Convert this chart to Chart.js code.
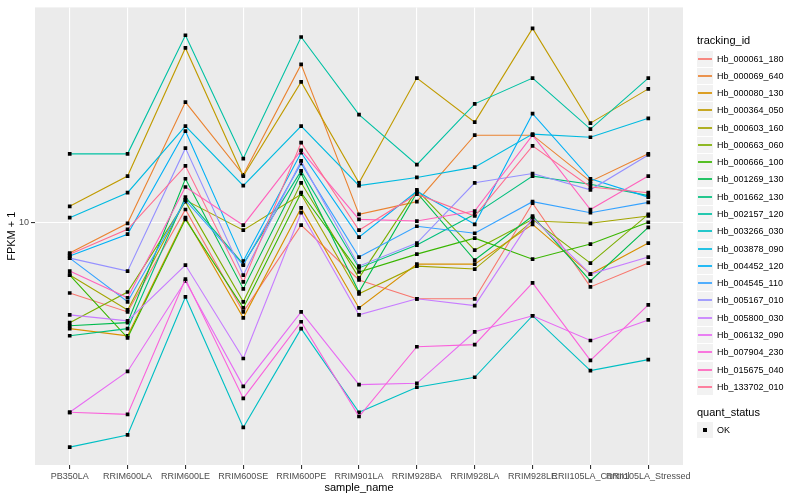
<!DOCTYPE html>
<html>
<head>
<meta charset="utf-8">
<script src="https://cdn.jsdelivr.net/npm/chart.js@4.4.0/dist/chart.umd.min.js"></script>
<style>
  body { margin: 0; background: #fff; }
  #wrap { position: relative; width: 800px; height: 500px; font-family: "Liberation Sans", Arial, sans-serif; }
  canvas { position: absolute; left: 0; top: 0; }
  .ltitle { position: absolute; left: 697px; font-size: 11px; color: #000; line-height: 13px; }
  .lrow { position: absolute; left: 697px; height: 17px; display: flex; align-items: center; font-size: 9px; color: #000; }
  .lkey { width: 16px; height: 16px; background: #f2f2f2; position: relative; margin-right: 4px; }
  .lkey .ln { position: absolute; left: 1px; right: 1px; top: 7px; height: 2px; opacity: 0.85; }
  .lkey .pt { position: absolute; left: 6px; top: 6px; width: 4px; height: 4px; background: #000; }
</style>
</head>
<body>
<div id="wrap">
  <canvas id="myChart" width="800" height="500"></canvas>
</div>
<script>
const categories = ["PB350LA", "RRIM600LA", "RRIM600LE", "RRIM600SE", "RRIM600PE", "RRIM901LA",
  "RRIM928BA", "RRIM928LA", "RRIM928LE", "RRII105LA_Control", "RRII105LA_Stressed"];

const trackingIds = ["Hb_000061_180", "Hb_000069_640", "Hb_000080_130", "Hb_000364_050", "Hb_000603_160",
  "Hb_000663_060", "Hb_000666_100", "Hb_001269_130", "Hb_001662_130", "Hb_002157_120",
  "Hb_003266_030", "Hb_003878_090", "Hb_004452_120", "Hb_004545_110", "Hb_005167_010",
  "Hb_005800_030", "Hb_006132_090", "Hb_007904_230", "Hb_015675_040", "Hb_133702_010"];

const seriesColors = ["#F8766D", "#EA8331", "#D89000", "#C09B00", "#A3A500", "#7CAE00", "#39B600", "#00BB4E",
  "#00BF7D", "#00C1A3", "#00BFC4", "#00BAE0", "#00B0F6", "#35A2FF", "#9590FF", "#C77CFF", "#E76BF3",
  "#FA62DB", "#FF62BC", "#FF6C90"];

// FPKM + 1 per sample, same order as categories
const hb000061 = [6.66, 5.97, 10.8, 5.97, 9.86, 7.18, 6.44, 6.44, 11.2, 6.90, 7.92];
const hb000069 = [8.39, 9.97, 20.1, 13.2, 25.0, 10.5, 11.3, 16.6, 16.6, 12.7, 14.9];
const hb000080 = [5.42, 5.20, 10.3, 5.77, 10.9, 6.11, 7.87, 7.87, 9.91, 7.43, 8.89];
const hb000364 = [11.0, 13.1, 27.5, 13.1, 22.6, 12.6, 23.1, 17.9, 30.8, 17.8, 21.7];
const hb000603 = [7.39, 6.04, 11.4, 9.58, 11.8, 6.63, 7.78, 7.65, 10.1, 9.97, 10.4];
const hb000663 = [5.61, 6.70, 11.3, 6.33, 12.6, 7.27, 12.1, 8.54, 10.2, 7.92, 10.5];
const hb000666 = [7.39, 5.14, 10.2, 6.11, 11.9, 7.52, 8.34, 9.15, 8.10, 8.84, 10.03];
const hb001269 = [5.51, 5.61, 12.9, 6.82, 13.3, 6.70, 11.9, 8.06, 10.4, 7.14, 9.74];
const hb001662 = [5.20, 5.42, 11.6, 7.87, 13.5, 7.70, 8.79, 10.5, 13.1, 12.5, 11.7];
const hb002157 = [14.9, 14.9, 29.6, 14.5, 29.3, 18.7, 14.0, 19.9, 23.1, 17.2, 23.1];
const hb003266 = [2.73, 2.93, 6.51, 3.06, 5.42, 3.34, 3.86, 4.09, 5.84, 4.25, 4.53];
const hb003878 = [10.3, 11.9, 17.5, 12.4, 17.5, 12.4, 13.0, 13.8, 16.7, 16.4, 18.3];
const hb004452 = [8.25, 9.36, 17.0, 8.01, 15.0, 9.20, 12.0, 9.91, 18.8, 12.9, 11.6];
const hb004545 = [8.15, 6.33, 11.4, 7.83, 14.1, 8.20, 9.80, 9.41, 11.3, 10.6, 11.25];
const hb005167 = [8.15, 7.56, 15.4, 7.39, 14.3, 7.78, 8.89, 12.6, 13.3, 12.1, 14.8];
const hb005800 = [5.87, 5.67, 7.83, 4.56, 10.6, 5.87, 6.44, 6.19, 10.3, 7.43, 8.20];
const hb006132 = [3.34, 4.23, 7.14, 3.88, 5.97, 3.92, 3.95, 5.32, 5.84, 5.06, 5.70];
const hb007904 = [3.34, 3.30, 7.22, 3.62, 5.64, 3.26, 4.88, 4.94, 7.06, 4.51, 6.22];
const hb015675 = [7.56, 6.48, 12.3, 9.86, 15.2, 10.2, 10.1, 10.7, 16.6, 10.8, 13.1];
const hb133702 = [8.34, 9.63, 13.9, 7.10, 15.9, 9.58, 11.8, 10.4, 15.6, 12.3, 11.9];

const seriesValues = [hb000061, hb000069, hb000080, hb000364, hb000603, hb000663, hb000666, hb001269,
  hb001662, hb002157, hb003266, hb003878, hb004452, hb004545, hb005167, hb005800, hb006132,
  hb007904, hb015675, hb133702];

const yTicks = [10];
const fontFamily = "'Liberation Sans', Arial, sans-serif";

const panelBg = {
  id: "panelBg",
  beforeDraw(chart) {
    const { ctx, chartArea: a } = chart;
    ctx.save();
    ctx.fillStyle = "#ebebeb";
    ctx.fillRect(a.left, a.top, a.right - a.left, a.bottom - a.top);
    ctx.restore();
  },
};

const datasets = seriesValues.map((vals, i) => ({
  label: trackingIds[i],
  data: vals.map((v, j) => ({ x: j, y: v })),
  borderColor: seriesColors[i],
  borderWidth: 1.1,
  backgroundColor: "#000",
  pointStyle: "rect",
  pointRadius: 2.6,
  pointBorderWidth: 0,
  pointBackgroundColor: "#000",
  tension: 0,
  order: -i,
}));

new Chart(document.getElementById("myChart"), {
  type: "line",
  data: { datasets: datasets },
  plugins: [panelBg],
  options: {
    responsive: false,
    animation: false,
    layout: { padding: { top: 5, right: 117, left: 0, bottom: 0 } },
    plugins: { legend: { display: false }, tooltip: { enabled: false } },
    scales: {
      x: {
        type: "linear",
        min: -0.6,
        max: 10.6,
        afterBuildTicks: (s) => { s.ticks = categories.map((c, i) => ({ value: i })); },
        afterFit: (s) => { s.height = 35; },
        border: { display: false },
        grid: { color: "#ffffff", lineWidth: 1.1, tickColor: "#333333", tickLength: 4 },
        ticks: {
          autoSkip: false, maxRotation: 0, minRotation: 0, padding: 2,
          color: "#4d4d4d", font: { size: 9, family: fontFamily },
          callback: (v) => categories[v],
        },
        title: {
          display: true, text: "sample_name", color: "#000",
          font: { size: 11, family: fontFamily }, padding: { top: 0, bottom: 5 },
        },
      },
      y: {
        type: "logarithmic",
        min: 2.462,
        max: 34.77,
        afterBuildTicks: (s) => { s.ticks = yTicks.map((v) => ({ value: v })); },
        afterFit: (s) => { s.width = 35; },
        border: { display: false },
        grid: { color: "#ffffff", lineWidth: 1.1, tickColor: "#333333", tickLength: 4 },
        ticks: {
          padding: 2, color: "#4d4d4d", font: { size: 9, family: fontFamily },
          callback: (v) => String(v),
        },
        title: {
          display: true, text: "FPKM + 1", color: "#000",
          font: { size: 11, family: fontFamily }, padding: { top: 5, bottom: 0 },
        },
      },
    },
  },
});

// legends, ggplot style
const wrap = document.getElementById("wrap");
const addTitle = (text, centerY) => {
  const el = document.createElement("div");
  el.className = "ltitle";
  el.textContent = text;
  el.style.top = Math.round(centerY - 6.5) + "px";
  wrap.appendChild(el);
};
const addRow = (text, centerY, color, isPoint) => {
  const row = document.createElement("div");
  row.className = "lrow";
  row.style.top = Math.round(centerY - 8.5) + "px";
  const key = document.createElement("div");
  key.className = "lkey";
  const mark = document.createElement("div");
  if (isPoint) {
    mark.className = "pt";
  } else {
    mark.className = "ln";
    mark.style.background = color;
  }
  key.appendChild(mark);
  row.appendChild(key);
  const label = document.createElement("span");
  label.textContent = text;
  row.appendChild(label);
  wrap.appendChild(row);
};

addTitle("tracking_id", 40.5);
trackingIds.forEach((id, i) => addRow(id, 58 + i * 17.28, seriesColors[i], false));
addTitle("quant_status", 412);
addRow("OK", 429.5, "#000", true);
</script>
</body>
</html>
